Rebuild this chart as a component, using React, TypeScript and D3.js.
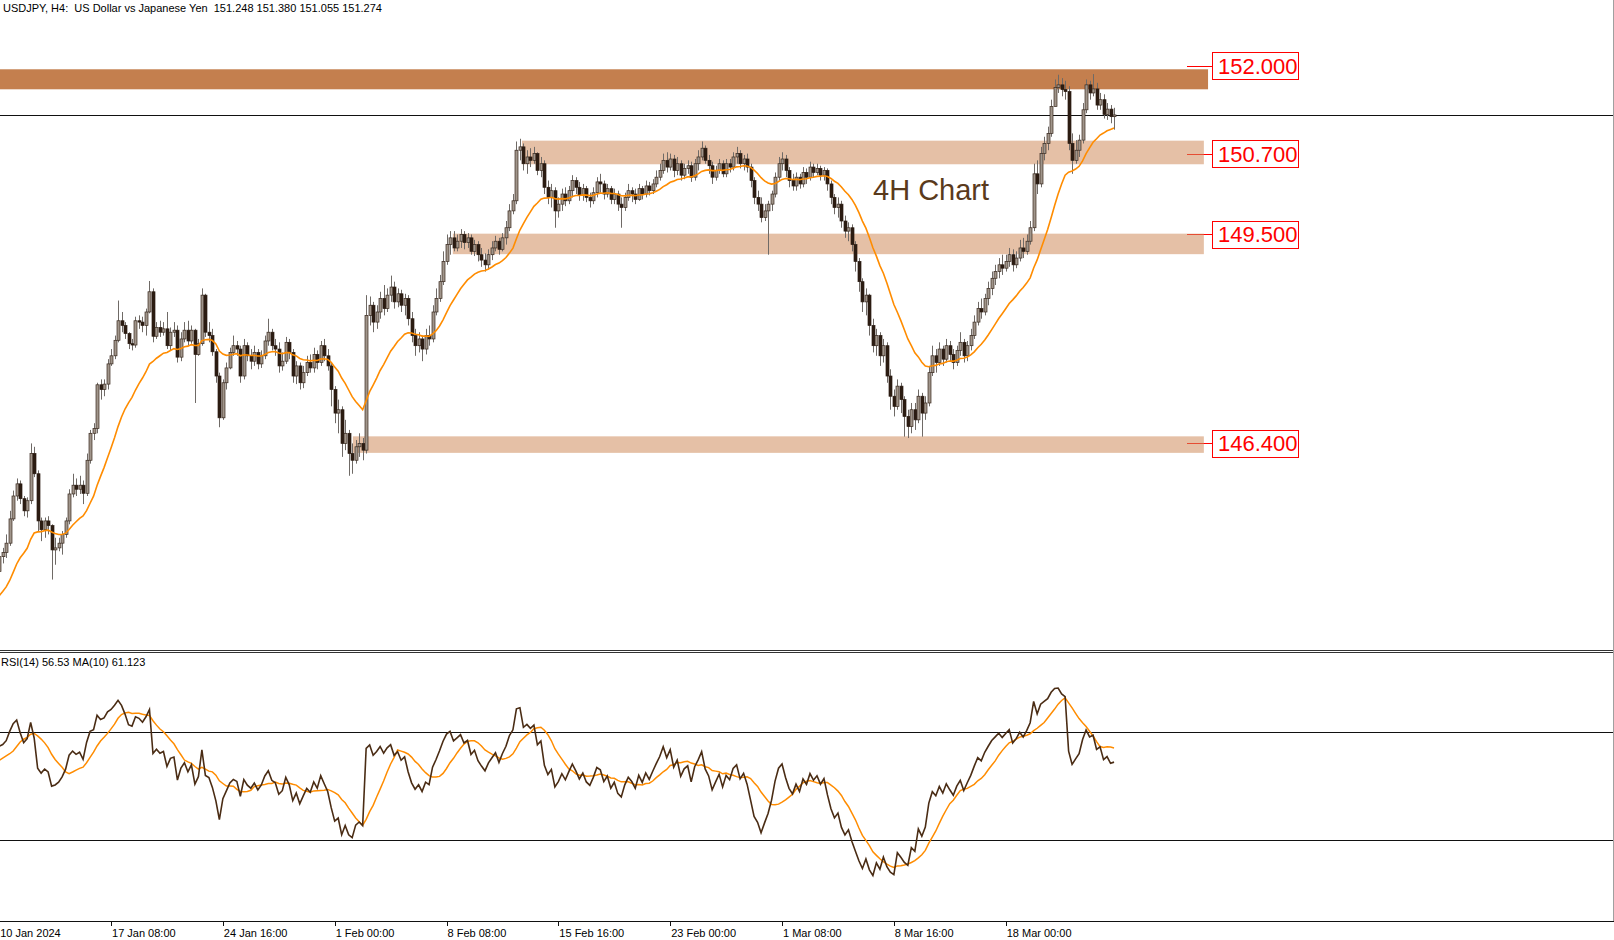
import React from 'react';
import * as d3 from 'd3';

const W = 1614;
const H = 940;

const titleText = 'USDJPY, H4:  US Dollar vs Japanese Yen  151.248 151.380 151.055 151.274';
const rsiTitle = 'RSI(14) 56.53 MA(10) 61.123';
const noteText = '4H Chart';

// closes before the first visible bar (indicator warm-up)
const preCloses = [
  142.30, 142.50, 142.80, 143.10, 143.20, 143.30, 143.50, 143.80, 144.10, 144.30,
  144.50, 144.60, 144.70, 144.90, 144.80, 145.60, 144.30, 144.60, 144.50, 144.30,
  144.00, 143.80, 143.90, 144.20, 144.30, 144.00, 143.70, 143.90, 144.30, 144.50,
];

const closes = [
  144.72, 144.78, 144.92, 145.28, 145.62, 145.80, 145.58, 145.40, 145.55, 146.25,
  145.95, 145.25, 145.12, 145.25, 145.18, 144.82, 144.85, 144.92, 145.05, 145.25,
  145.65, 145.78, 145.72, 145.78, 145.66, 146.15, 146.55, 146.62, 147.27, 147.20,
  147.28, 147.58, 147.70, 147.93, 148.22, 148.15, 148.03, 147.88, 147.86, 148.22,
  148.20, 148.15, 148.35, 148.65, 147.99, 148.12, 148.05, 148.10, 147.85, 148.05,
  148.08, 147.68, 147.95, 148.08, 147.92, 148.08, 147.72, 147.88, 148.60, 148.05,
  148.00, 147.76, 147.40, 146.78, 147.30, 147.52, 147.75, 147.85, 147.80, 147.40,
  147.85, 147.70, 147.62, 147.75, 147.58, 147.70, 147.92, 148.05, 147.85, 147.80,
  147.55, 147.62, 147.90, 147.75, 147.40, 147.55, 147.30, 147.45, 147.60, 147.52,
  147.72, 147.60, 147.85, 147.70, 147.55, 147.20, 146.85, 146.90, 146.40, 146.55,
  146.25, 146.15, 146.35, 146.40, 146.30, 148.30, 148.45, 148.20, 148.35, 148.55,
  148.40, 148.60, 148.72, 148.50, 148.62, 148.45, 148.55, 148.25, 148.00, 147.85,
  147.95, 147.80, 148.00, 147.95, 148.35, 148.55, 148.80, 149.10, 149.35, 149.45,
  149.30, 149.40, 149.50, 149.38, 149.45, 149.25, 149.35, 149.20, 149.12, 149.05,
  149.20, 149.30, 149.40, 149.28, 149.45, 149.60, 149.85, 150.00, 150.75, 150.80,
  150.55, 150.65, 150.60, 150.70, 150.45, 150.55, 150.20, 150.05, 150.15, 149.85,
  149.95, 150.10, 150.00, 150.15, 150.30, 150.20, 150.08, 150.18, 150.05, 150.00,
  150.12, 150.28, 150.25, 150.10, 150.18, 150.02, 150.10, 149.95, 149.90, 150.05,
  150.15, 150.10, 150.02, 150.18, 150.10, 150.22, 150.15, 150.25, 150.35, 150.45,
  150.60, 150.50, 150.62, 150.45, 150.55, 150.38, 150.48, 150.52, 150.35, 150.55,
  150.65, 150.78, 150.60, 150.52, 150.35, 150.45, 150.55, 150.40, 150.55, 150.50,
  150.65, 150.70, 150.55, 150.62, 150.50, 150.30, 150.05, 149.95, 149.75, 149.85,
  149.95, 150.10, 150.35, 150.55, 150.62, 150.45, 150.30, 150.22, 150.35, 150.25,
  150.42, 150.35, 150.50, 150.42, 150.48, 150.38, 150.45, 150.25, 150.05, 149.90,
  149.95, 149.70, 149.55, 149.60, 149.35, 149.10, 148.80, 148.50, 148.60, 148.15,
  147.85, 148.00, 147.70, 147.85, 147.40, 147.10, 146.95, 147.25, 147.05, 146.80,
  146.65, 146.90, 146.75, 147.10, 146.85, 147.00, 147.45, 147.70, 147.60, 147.80,
  147.65, 147.85, 147.72, 147.60, 147.78, 147.90, 147.70, 147.85, 148.00, 148.20,
  148.40, 148.35, 148.55, 148.70, 148.85, 148.95, 149.05, 149.00, 149.10, 149.20,
  149.05, 149.15, 149.30, 149.25, 149.40, 149.60, 150.40, 150.25, 150.70, 150.85,
  151.00, 151.40, 151.68, 151.72, 151.65, 151.62, 150.85, 150.60, 150.75, 150.90,
  151.35, 151.72, 151.60, 151.66, 151.42, 151.50, 151.28, 151.36, 151.248, 151.274,
];

const highs = [
  144.85, 144.85, 145.05, 145.40, 145.70, 145.88, 145.85, 145.62, 145.60, 146.40,
  146.35, 146.00, 145.30, 145.30, 145.32, 145.20, 145.00, 145.00, 145.10, 145.30,
  145.72, 145.95, 145.88, 145.92, 145.85, 146.25, 146.60, 146.70, 147.30, 147.35,
  147.35, 147.65, 147.80, 148.00, 148.52, 148.35, 148.20, 148.05, 147.95, 148.28,
  148.30, 148.28, 148.40, 148.81, 148.70, 148.20, 148.22, 148.20, 148.35, 148.12,
  148.20, 148.15, 148.05, 148.20, 148.22, 148.15, 148.10, 147.95, 148.70, 148.62,
  148.20, 148.10, 147.80, 147.45, 147.35, 147.60, 147.82, 148.00, 147.92, 147.85,
  147.95, 147.90, 147.80, 147.85, 147.80, 147.78, 148.00, 148.25, 148.10, 147.95,
  147.90, 147.75, 147.98, 147.95, 147.80, 147.62, 147.60, 147.55, 147.70, 147.72,
  147.82, 147.78, 147.92, 147.95, 147.80, 147.60, 147.25, 147.05, 146.95, 146.75,
  146.60, 146.40, 146.45, 146.55, 146.48, 148.60, 148.58, 148.50, 148.45, 148.65,
  148.75, 148.70, 148.89, 148.80, 148.70, 148.68, 148.62, 148.60, 148.35, 148.10,
  148.05, 148.00, 148.10, 148.15, 148.45, 148.70, 148.90, 149.25, 149.50, 149.55,
  149.55, 149.50, 149.58, 149.55, 149.52, 149.50, 149.42, 149.40, 149.30, 149.22,
  149.28, 149.40, 149.48, 149.45, 149.52, 149.70, 149.95, 150.10, 150.88, 150.92,
  150.85, 150.75, 150.78, 150.80, 150.72, 150.65, 150.60, 150.30, 150.25, 150.20,
  150.05, 150.18, 150.20, 150.22, 150.38, 150.35, 150.28, 150.25, 150.22, 150.12,
  150.20, 150.35, 150.40, 150.30, 150.25, 150.22, 150.18, 150.15, 150.05, 150.12,
  150.25, 150.20, 150.18, 150.25, 150.22, 150.30, 150.28, 150.32, 150.45, 150.55,
  150.70, 150.72, 150.70, 150.68, 150.65, 150.60, 150.55, 150.60, 150.58, 150.62,
  150.75, 150.88, 150.82, 150.68, 150.58, 150.52, 150.62, 150.60, 150.62, 150.62,
  150.72, 150.80, 150.75, 150.68, 150.70, 150.55, 150.35, 150.15, 150.05, 149.95,
  150.00, 150.15, 150.42, 150.65, 150.72, 150.68, 150.50, 150.40, 150.42, 150.40,
  150.50, 150.48, 150.58, 150.55, 150.55, 150.52, 150.50, 150.48, 150.30, 150.10,
  150.05, 150.00, 149.78, 149.68, 149.65, 149.40, 149.15, 148.85, 148.70, 148.62,
  148.25, 148.10, 148.05, 147.95, 147.90, 147.50, 147.20, 147.35, 147.30, 147.10,
  146.90, 147.00, 147.00, 147.20, 147.15, 147.10, 147.55, 147.85, 147.80, 147.90,
  147.85, 147.95, 147.92, 147.80, 147.85, 148.05, 147.95, 147.92, 148.10, 148.30,
  148.50, 148.55, 148.62, 148.80, 148.95, 149.05, 149.15, 149.20, 149.20, 149.30,
  149.28, 149.25, 149.42, 149.45, 149.50, 149.70, 150.55, 150.60, 150.80, 150.95,
  151.10, 151.50, 151.80, 151.87, 151.82, 151.78, 151.70, 151.00, 150.90, 150.98,
  151.45, 151.80, 151.78, 151.88, 151.75, 151.60, 151.58, 151.45, 151.42, 151.38,
];

const lows = [
  144.40, 144.62, 144.70, 144.88, 145.25, 145.55, 145.50, 145.32, 145.30, 145.50,
  145.90, 145.10, 144.95, 145.00, 145.05, 144.38, 144.60, 144.80, 144.75, 145.00,
  145.20, 145.60, 145.62, 145.65, 145.50, 145.62, 146.10, 146.45, 146.55, 147.05,
  147.10, 147.20, 147.55, 147.65, 147.90, 148.05, 147.95, 147.80, 147.78, 147.82,
  148.10, 148.05, 148.00, 148.33, 147.90, 147.95, 147.98, 148.00, 147.80, 147.78,
  147.98, 147.60, 147.62, 147.90, 147.85, 147.88, 147.00, 147.70, 147.85, 147.98,
  147.90, 147.70, 147.30, 146.64, 146.75, 147.20, 147.50, 147.70, 147.70, 147.30,
  147.35, 147.62, 147.50, 147.55, 147.50, 147.52, 147.65, 147.85, 147.78, 147.70,
  147.45, 147.48, 147.58, 147.65, 147.30, 147.28, 147.20, 147.22, 147.40, 147.45,
  147.45, 147.50, 147.55, 147.62, 147.48, 146.95, 146.70, 146.55, 146.20, 146.30,
  145.92, 145.95, 146.10, 146.20, 146.15, 146.25, 148.15, 148.05, 148.10, 148.25,
  148.30, 148.35, 148.50, 148.40, 148.42, 148.35, 148.30, 148.15, 147.90, 147.70,
  147.75, 147.62, 147.72, 147.85, 147.90, 148.30, 148.50, 148.75, 149.05, 149.20,
  149.25, 149.25, 149.30, 149.28, 149.30, 149.20, 149.18, 149.10, 149.02, 148.95,
  148.98, 149.12, 149.25, 149.20, 149.25, 149.35, 149.55, 149.80, 149.95, 150.60,
  150.45, 150.40, 150.50, 150.55, 150.38, 150.35, 150.10, 149.95, 149.90, 149.60,
  149.75, 149.85, 149.92, 149.95, 150.05, 150.10, 150.00, 150.00, 149.98, 149.90,
  149.95, 150.05, 150.12, 150.02, 150.05, 149.95, 149.95, 149.85, 149.60, 149.85,
  150.00, 149.98, 149.95, 150.00, 150.02, 150.05, 150.08, 150.10, 150.20, 150.30,
  150.40, 150.42, 150.45, 150.35, 150.38, 150.30, 150.32, 150.40, 150.28, 150.30,
  150.45, 150.60, 150.55, 150.40, 150.25, 150.30, 150.40, 150.35, 150.35, 150.42,
  150.45, 150.55, 150.48, 150.45, 150.42, 150.20, 149.95, 149.85, 149.68, 149.70,
  149.20, 149.85, 150.05, 150.30, 150.45, 150.35, 150.20, 150.15, 150.15, 150.18,
  150.20, 150.25, 150.30, 150.35, 150.38, 150.30, 150.30, 150.15, 149.95, 149.80,
  149.75, 149.60, 149.45, 149.40, 149.25, 148.95, 148.65, 148.35, 148.30, 148.00,
  147.75, 147.70, 147.55, 147.60, 147.30, 146.90, 146.80, 146.90, 146.85, 146.50,
  146.48, 146.55, 146.60, 146.70, 146.50, 146.75, 146.95, 147.40, 147.45, 147.55,
  147.55, 147.60, 147.62, 147.50, 147.55, 147.70, 147.60, 147.62, 147.78, 147.95,
  148.15, 148.25, 148.30, 148.45, 148.60, 148.75, 148.85, 148.90, 148.95, 149.02,
  148.95, 149.00, 149.10, 149.15, 149.20, 149.35, 149.55, 150.10, 150.20, 150.60,
  150.75, 150.95, 151.40, 151.60, 151.55, 151.50, 150.75, 150.40, 150.55, 150.65,
  150.85, 151.30, 151.50, 151.55, 151.35, 151.35, 151.22, 151.20, 151.15, 151.055,
];

const timeTicks = [
  { bar: 0, label: '10 Jan 2024' },
  { bar: 32, label: '17 Jan 08:00' },
  { bar: 64, label: '24 Jan 16:00' },
  { bar: 96, label: '1 Feb 00:00' },
  { bar: 128, label: '8 Feb 08:00' },
  { bar: 160, label: '15 Feb 16:00' },
  { bar: 192, label: '23 Feb 00:00' },
  { bar: 224, label: '1 Mar 08:00' },
  { bar: 256, label: '8 Mar 16:00' },
  { bar: 288, label: '18 Mar 00:00' },
];

// support / resistance zones: price range and bar range
const zoneTop = [151.951, 150.892, 149.512, 146.505];
const zoneBottom = [151.654, 150.542, 149.208, 146.26];
const zoneFrom = [-1, 149.6, 129.8, 101.2];
const zoneTo = [345.9, 344.7, 344.7, 344.7];

const levelPrices = [152.0, 150.7, 149.5, 146.4];
const levelLabels = ['152.000', '150.700', '149.500', '146.400'];

const rsiLevels = [70, 30];
const maPeriod = 20;
const rsiPeriod = 14;
const rsiMaPeriod = 10;

function computeEMA(vals: number[], n: number): number[] {
  const a = 2 / (n + 1);
  const out: number[] = [];
  let e = vals[0];
  for (let i = 0; i < vals.length; i++) {
    e = i === 0 ? vals[0] : a * vals[i] + (1 - a) * e;
    out.push(e);
  }
  return out;
}

function computeSMA(vals: number[], n: number): (number | null)[] {
  const out: (number | null)[] = [];
  let s = 0;
  for (let i = 0; i < vals.length; i++) {
    s += vals[i];
    if (i >= n) s -= vals[i - n];
    out.push(i >= n - 1 ? s / n : null);
  }
  return out;
}

function computeRSI(vals: number[], n: number): (number | null)[] {
  const out: (number | null)[] = [null];
  let ag = 0, al = 0;
  for (let i = 1; i < vals.length; i++) {
    const d = vals[i] - vals[i - 1];
    const g = Math.max(d, 0), l = Math.max(-d, 0);
    if (i <= n) {
      ag += g / n; al += l / n;
      out.push(i === n ? (al === 0 ? 100 : 100 - 100 / (1 + ag / al)) : null);
    } else {
      ag = (ag * (n - 1) + g) / n;
      al = (al * (n - 1) + l) / n;
      out.push(al === 0 ? 100 : 100 - 100 / (1 + ag / al));
    }
  }
  return out;
}

export default function App() {
  React.useEffect(() => {
    document.body.style.margin = '0';
  }, []);

  const x = d3.scaleLinear().domain([0, 288]).range([-0.8, 1005.7]);
  const yP = d3.scaleLinear().domain([143.335, 152.979]).range([650, 0]);
  const yR = d3.scaleLinear().domain([0, 100]).range([921, 651]);

  const all = preCloses.concat(closes);
  const off = preCloses.length;
  const maAll = computeEMA(all, maPeriod);
  const rsiAll = computeRSI(all, rsiPeriod);
  const rsiVals = rsiAll.map((v) => (v == null ? 0 : v));
  const rsiMaAll = computeSMA(rsiVals, rsiMaPeriod);

  const ma = closes.map((_, i) => maAll[i + off]);
  const rsi = closes.map((_, i) => rsiAll[i + off] as number);
  const rsiMa = closes.map((_, i) => rsiMaAll[i + off] as number);

  const opens = closes.map((_, i) => (i === 0 ? preCloses[preCloses.length - 1] : closes[i - 1]));

  const maLine = d3.line<number>().x((_, i) => x(i)).y((d) => yP(d));
  const rsiLine = d3.line<number>().x((_, i) => x(i)).y((d) => yR(d));

  const lastPrice = closes[closes.length - 1];
  const font = '"Liberation Sans", Arial, sans-serif';

  return (
    <svg width={W} height={H} style={{ position: 'absolute', left: 0, top: 0, background: '#fff' }} fontFamily={font}>
      <rect x={0} y={0} width={W} height={H} fill="#ffffff" />
      {levelPrices.map((p, i) => (
        <line key={'lv' + i} x1={1187} x2={1212} y1={Math.round(yP(p)) + 0.5} y2={Math.round(yP(p)) + 0.5} stroke="#ff0000" strokeWidth={1} />
      ))}
      {zoneTop.map((t, i) => (
        <rect
          key={'z' + i}
          x={Math.max(0, x(zoneFrom[i]))}
          y={yP(t)}
          width={x(zoneTo[i]) - Math.max(0, x(zoneFrom[i]))}
          height={yP(zoneBottom[i]) - yP(t)}
          fill={i === 0 ? '#c47f4e' : '#d08c5c'}
          fillOpacity={i === 0 ? 1 : 0.55}
        />
      ))}
      <line x1={0} x2={1613} y1={Math.round(yP(lastPrice)) + 0.5} y2={Math.round(yP(lastPrice)) + 0.5} stroke="#111" strokeWidth={1} />
      {closes.map((c, i) => {
        const o = opens[i];
        const cx = Math.round(x(i)) + 0.5;
        const top = yP(Math.max(o, c));
        const bot = yP(Math.min(o, c));
        const bull = c >= o;
        return (
          <g key={'c' + i}>
            <line x1={cx} x2={cx} y1={yP(highs[i])} y2={yP(lows[i])} stroke="#6f6a66" strokeWidth={1} />
            <rect
              x={cx - 1.5}
              y={top}
              width={3}
              height={Math.max(1, bot - top)}
              fill={bull ? '#a0958b' : '#2b1c12'}
              stroke={bull ? '#3a2a1f' : '#2b1c12'}
              strokeWidth={0.7}
            />
          </g>
        );
      })}
      <path d={maLine(ma) || ''} fill="none" stroke="#ff8c00" strokeWidth={1.6} />
      <text x={873} y={200} fontSize={29} fill="#5a3a1c">{noteText}</text>
      {levelPrices.map((p, i) => {
        const yc = yP(p);
        return (
          <g key={'lb' + i}>
            <rect x={1212.5} y={Math.round(yc - 13.5) + 0.5} width={86} height={27} fill="#ffffff" stroke="#ff0000" strokeWidth={1} />
            <text x={1218} y={yc + 8} fontSize={22} fill="#ff0000">{levelLabels[i]}</text>
          </g>
        );
      })}
      <text x={3} y={12} fontSize={11} fill="#000" style={{ whiteSpace: 'pre' }}>{titleText}</text>
      <line x1={0} x2={1614} y1={650.5} y2={650.5} stroke="#333" strokeWidth={1} />
      <line x1={0} x2={1614} y1={652.5} y2={652.5} stroke="#333" strokeWidth={1} />
      <text x={1} y={666} fontSize={11} fill="#000">{rsiTitle}</text>
      {rsiLevels.map((lv) => (
        <line key={'rl' + lv} x1={0} x2={1613} y1={Math.round(yR(lv)) + 0.5} y2={Math.round(yR(lv)) + 0.5} stroke="#111" strokeWidth={1} />
      ))}
      <path d={rsiLine(rsiMa) || ''} fill="none" stroke="#ff8c00" strokeWidth={1.5} />
      <path d={rsiLine(rsi) || ''} fill="none" stroke="#4a2c14" strokeWidth={1.6} />
      <line x1={0} x2={1614} y1={921.5} y2={921.5} stroke="#111" strokeWidth={1} />
      {timeTicks.map((t) => (
        <g key={'t' + t.bar}>
          <line x1={Math.round(x(t.bar)) + 0.5} x2={Math.round(x(t.bar)) + 0.5} y1={922} y2={926} stroke="#111" strokeWidth={1} />
          <text x={Math.max(0, x(t.bar) + 1)} y={937} fontSize={11} fill="#000">{t.label}</text>
        </g>
      ))}
      <line x1={1613.5} x2={1613.5} y1={0} y2={921} stroke="#a0a0a0" strokeWidth={1} />
    </svg>
  );
}
